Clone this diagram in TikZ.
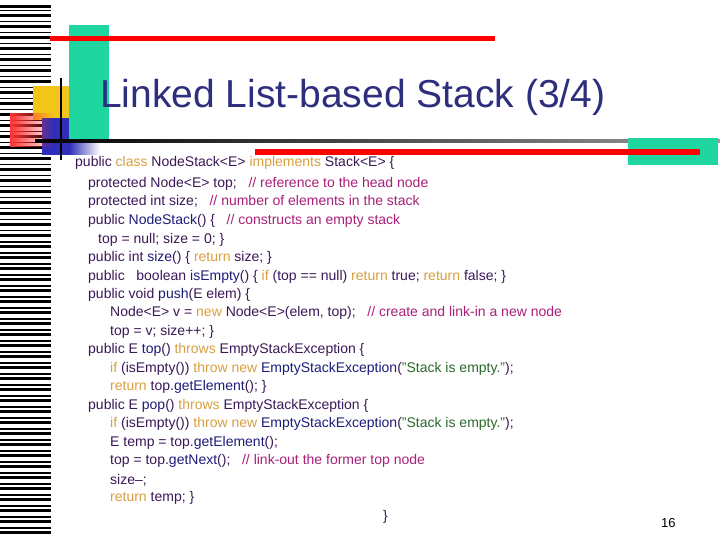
\documentclass[tikz,border=0pt]{standalone}
\usepackage{fontspec}
\setmainfont{Liberation Sans}
\usetikzlibrary{fadings}
\definecolor{cpurp}{HTML}{3A1858}
\definecolor{ctan}{HTML}{D8A040}
\definecolor{ccom}{HTML}{A8207A}
\definecolor{cnavy}{HTML}{1C1C7A}
\definecolor{cgrn}{HTML}{2A6A2A}
\definecolor{ctitle}{HTML}{2E2E7E}
\definecolor{cteal}{HTML}{1FD6A0}
\definecolor{cyel}{HTML}{F2C618}
\definecolor{cblu}{HTML}{2E2EB8}
\newcommand{\kwx}[1]{\textcolor{ctan}{#1}}
\newcommand{\cmx}[1]{\textcolor{ccom}{#1}}
\newcommand{\nvx}[1]{\textcolor{cnavy}{#1}}
\newcommand{\stx}[1]{\textcolor{cgrn}{#1}}
\begin{document}
\begin{tikzpicture}[x=1pt,y=-1pt,
  code/.style={anchor=west,inner sep=0pt,text=cpurp,font=\fontsize{14}{16}\selectfont}]
\useasboundingbox (0,0) rectangle (720,540);
\fill[white] (0,0) rectangle (720,540);
% barcode
\foreach \y/\h in {5/3,10/1.5,14/3,21/1.5,25/3,32/1.5,36/3,43/1.5,47/3,54/1.5,58/3,65/1.5,69/3,76/1.5,80/3,87/1.5,91/3,98/1.5,102/3,109/1.5,113/3,120/1.5,124/3,131/1.5,135/3,142/1.5,146/3,153/1.5,157/3,164/1.5,168/3,175/1.5,179/3,186/1.5,190/3,197/1.5,201/3,208/1.5,212/3,219/1.5,223/3,230/1.5,234/3,241/1.5,245/3,252/1.5,256/3,263/1.5,267/3,274/1.5,278/3,285/1.5,289/3,296/1.5,300/3,307/1.5,311/3,318/1.5,322/3,329/1.5,333/3,340/1.5,344/3,351/1.5,355/3,362/1.5,366/3,373/1.5,377/3,384/1.5,388/3,395/1.5,399/3,406/1.5,410/3,417/1.5,421/3,428/1.5,432/3,439/1.5,443/3,450/1.5,454/3,461/1.5,465/3,472/1.5,476/3,483/1.5,487/3,494/1.5,498/3,505/1.5,509/3,516/1.5,520/3,527/1.5,531/3}
  \fill[black] (0,\y) rectangle (51,\y+\h);
% decorations
\fill[cteal] (69,25) rectangle (109,140);
\fill[cyel] (33,86) rectangle (69,120);
\fill[cblu] (42,118) rectangle (69,155);
\fill[red!80,path fading=east] (10,113) rectangle (54,147);
\fill[cblu,path fading=east] (69,141) rectangle (100,155);
\fill[red] (50,36) rectangle (495,41);
\draw[line width=2pt] (61,78) -- (61,160);
\shade[left color=black,right color=black!40] (35,140) rectangle (720,143);
\fill[cteal] (628,138) rectangle (718,165);
\fill[red] (255,149) rectangle (700,155);
% title
\node[anchor=base west,inner sep=0pt,text=ctitle,font=\fontsize{39}{44}\selectfont] (title) at (100,108) {Linked List-based Stack (3/4)};
% code
\node[code] (l1) at (75,163) {public \kwx{class} NodeStack<E> \kwx{implements} Stack<E> \{};
\node[code] (l2) at (88,184) {protected Node<E> top;\ \ \ \cmx{// reference to the head node}};
\node[code] (l3) at (88,202) {protected int size;\ \ \ \cmx{// number of elements in the stack}};
\node[code] (l4) at (88,221) {public \nvx{NodeStack}() \{\ \ \ \cmx{// constructs an empty stack}};
\node[code] (l5) at (98,240) {top = null; size = 0; \}};
\node[code] (l6) at (88,258) {public int \nvx{size}() \{ \kwx{return} size; \}};
\node[code] (l7) at (88,277) {public\ \ \ boolean \nvx{isEmpty}() \{ \kwx{if} (top == null) \kwx{return} true; \kwx{return} false; \}};
\node[code] (l8) at (88,295) {public void \nvx{push}(E elem) \{};
\node[code] (l9) at (110,313) {Node<E> v = \kwx{new} Node<E>(elem, top);\ \ \ \cmx{// create and link-in a new node}};
\node[code] (l10) at (110,332) {top = v; size++; \}};
\node[code] (l11) at (88,350) {public E \nvx{top}() \kwx{throws} EmptyStackException \{};
\node[code] (l12) at (110,369) {\kwx{if} (isEmpty()) \kwx{throw} \kwx{new} \nvx{EmptyStackException}(\stx{"Stack is empty."});};
\node[code] (l13) at (110,387) {\kwx{return} top.\nvx{getElement}(); \}};
\node[code] (l14) at (88,406) {public E \nvx{pop}() \kwx{throws} EmptyStackException \{};
\node[code] (l15) at (110,424) {\kwx{if} (isEmpty()) \kwx{throw} \kwx{new} \nvx{EmptyStackException}(\stx{"Stack is empty."});};
\node[code] (l16) at (110,443) {E temp = top.\nvx{getElement}();};
\node[code] (l17) at (110,461) {top = top.\nvx{getNext}();\ \ \ \cmx{// link-out the former top node}};
\node[code] (l18) at (110,480) {size--;};
\node[code] (l19) at (110,498) {\kwx{return} temp; \}};
\node[code] (l20) at (383,517) {\}};
\node[anchor=west,inner sep=0pt,font=\fontsize{13}{15}\selectfont] (pg) at (661,523) {16};
\end{tikzpicture}
\end{document}
